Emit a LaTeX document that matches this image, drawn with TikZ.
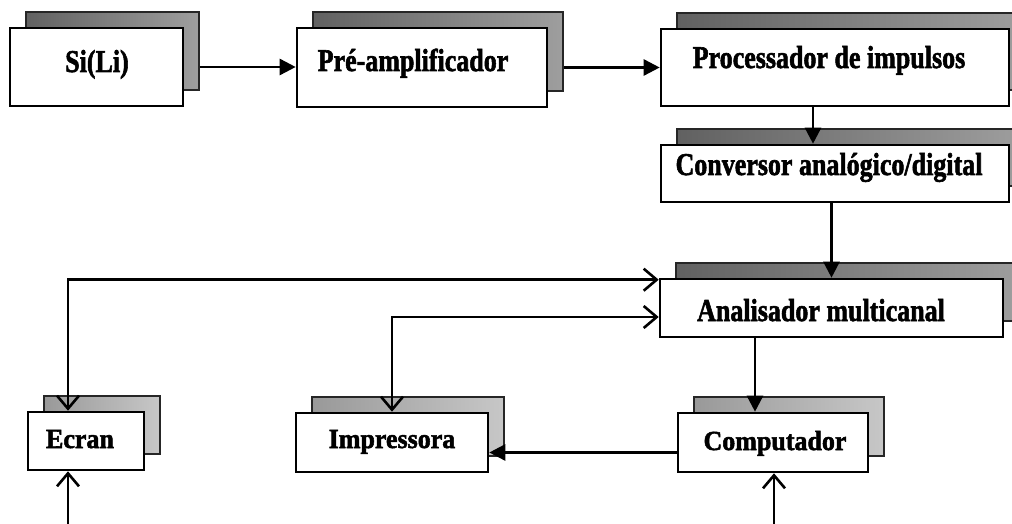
\documentclass[tikz,border=0pt]{standalone}
\usepackage{fontspec}
\setmainfont{Liberation Serif}[BoldFeatures={FakeBold=2}]
\usepackage{graphicx}
\usetikzlibrary{arrows.meta}

% block outline, its offset shadow and its caption
\tikzset{
  box/.style={draw=black, line width=2.6pt, fill=white, inner sep=0pt},
  dark/.style={draw=black!85, line width=1.2pt, left color=black!62, right color=black!38},
  light/.style={draw=black!85, line width=1.2pt, left color=black!40, right color=black!22},
  lbl/.style={inner sep=0pt, anchor=base, font=\fontsize{26}{28}\selectfont\bfseries},
  flow/.style={line width=2.6pt, -{Triangle[length=16pt,width=16pt]}},
  link/.style={line width=2.6pt,
    {Straight Barb[length=13pt,width=22pt]}-{Straight Barb[length=13pt,width=22pt]}},
  feed/.style={line width=2.6pt, -{Straight Barb[length=13pt,width=22pt]}}
}

% #1 name, #2..#5 corners (x1,y1,x2,y2), #6 shadow style, #7,#8 caption base point, #9 caption
\newcommand\blockunit[9]{%
  \node[#6, minimum width={#4-#2}, minimum height={#5-#3}, inner sep=0pt]
    (#1-s) at ({(#2+#4)/2+16},{(#3+#5)/2-16}) {};
  \node[box, minimum width={#4-#2}, minimum height={#5-#3}]
    (#1) at ({(#2+#4)/2},{(#3+#5)/2}) {};
  \node[lbl] (#1-t) at (#7,#8) {#9};
}
\newcommand\tallcap[1]{\scalebox{1}[1.22]{#1}}
\newcommand\lowcap[1]{\scalebox{1}[1.06]{#1}}

\begin{document}
\begin{tikzpicture}[x=1pt,y=-1pt]
\clip (0,0) rectangle (1012,524);
\fill[white] (0,0) rectangle (1012,524);

% signal chain
\blockunit{si}{10}{28}{183}{106}{dark}{97}{72}{\tallcap{Si(Li)}}
\blockunit{pre}{297}{28}{547}{107}{dark}{413}{71}{\tallcap{Pré-amplificador}}
\blockunit{proc}{661}{29}{1009}{106}{dark}{829}{68}{\tallcap{Processador de impulsos}}
\blockunit{conv}{661}{145}{1009}{202}{dark}{829}{175}{\tallcap{Conversor analógico/digital}}
\blockunit{anal}{660}{279}{1003}{337}{dark}{821}{321}{\tallcap{Analisador multicanal}}

% peripherals
\blockunit{ecran}{28}{412}{144}{470}{light}{80}{448}{\lowcap{Ecran}}
\blockunit{impr}{296}{413}{488}{472}{light}{392}{448}{\lowcap{Impressora}}
\blockunit{comp}{678}{413}{868}{472}{light}{775}{450}{\lowcap{Computador}}

% forward connections
\draw[flow] (si-s.east |- si.east) -- (pre.west |- si.east);
\draw[flow] (pre-s.east |- pre.east) -- (proc.west |- pre.east);
\draw[flow] ([xshift=-22pt]proc.south) -- ([xshift=-22pt]conv.north);
\draw[flow] (conv.south -| anal.north) -- (anal.north);
\coordinate (cdown) at ([xshift=-18pt]comp.north);
\draw[flow] (cdown |- anal.south) -- (cdown);
\draw[flow] ([yshift=-10pt]comp.west) -- ([yshift=-10pt]impr.east);

% two-way links to the analyser
\draw[link] ([xshift=-18pt]ecran.north) |- ([yshift=-2pt]anal.north west);
\draw[link] (impr.north) |- ([yshift=-9pt]anal.west);

% external inputs from below
\coordinate (ecin) at (68,524);
\coordinate (cpin) at (774,524);
\draw[feed] (ecin) -- (ecin |- ecran.south);
\draw[feed] (cpin) -- (cpin |- comp.south);
\end{tikzpicture}
\end{document}
